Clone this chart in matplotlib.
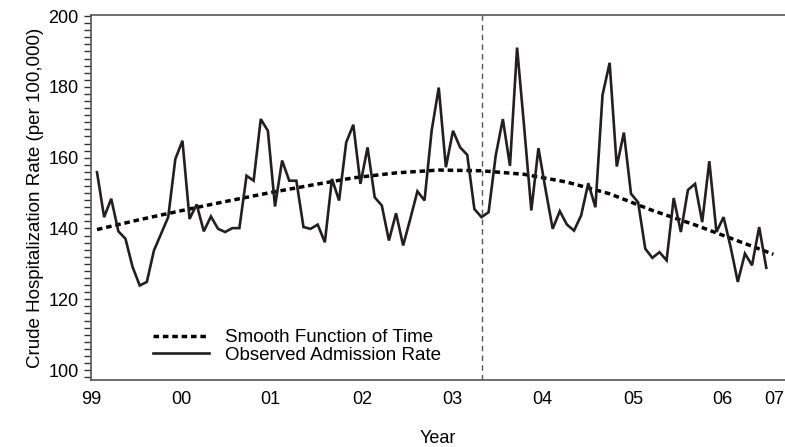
import matplotlib
matplotlib.use("Agg")
import matplotlib.pyplot as plt
from matplotlib.ticker import MultipleLocator, FixedLocator
import numpy as np

plt.rcParams['font.family'] = ['Liberation Sans', 'DejaVu Sans']

# Observed monthly crude hospitalization rate (per 100,000), starting Jan 1999
observed = [155.9, 143.2, 148.4, 139.2, 137.1, 129.1, 123.9, 124.9, 133.8, 138.5, 143.2, 159.6,
            164.8, 142.7, 146.8, 139.2, 143.4, 139.9, 139.0, 140.1, 140.1, 154.9, 153.5, 170.9,
            167.6, 146.2, 159.2, 153.5, 153.5, 140.4, 139.9, 141.1, 136.1, 154.0, 147.9, 164.3,
            169.3, 152.6, 162.9, 148.8, 146.5, 136.6, 144.3, 135.2, 142.7, 150.5, 147.9, 167.6,
            179.8, 157.3, 167.6, 162.9, 160.8, 145.5, 143.2, 144.6, 160.6, 170.9, 157.7, 191.1,
            168.5, 145.1, 162.7, 151.0, 139.9, 144.9, 141.1, 139.4, 143.7, 152.8, 146.0, 177.7,
            186.8, 157.5, 167.1, 149.8, 147.4, 134.3, 131.7, 133.3, 131.0, 148.6, 139.0, 150.9,
            152.6, 141.8, 159.0, 139.0, 143.2, 134.7, 124.9, 132.9, 129.6, 140.4, 128.9]

# Smooth function of time, read every 6 observations
smooth_idx = [0, 6, 12, 18, 24, 30, 36, 42, 48, 54, 60, 66, 72, 78, 84, 90, 95]
smooth_vals = [139.7, 142.5, 145.1, 147.6, 150.0, 152.2, 154.3, 155.7, 156.5,
               156.3, 155.3, 153.1, 149.8, 145.1, 141.0, 136.5, 132.7]

# Intervention (vertical dashed line), in observation-index units
intervention_idx = 54.1

year_labels = ['99', '00', '01', '02', '03', '04', '05', '06', '07']
# label positions on the observation-index axis
year_tick_pos = [-0.84, 11.8, 24.4, 37.2, 49.9, 62.6, 75.3, 87.9, 95.1]
y_ticks = [100, 120, 140, 160, 180, 200]

obs_idx = np.arange(len(observed))

fig = plt.figure(figsize=(7.85, 4.47), dpi=100)
ax = fig.add_axes([91/785, 1 - 380/447, 1 - 91/785, (380 - 15)/447])

ax.plot(smooth_idx, smooth_vals, color='black', lw=2.5, linestyle=(0, (1.6, 1.1)),
        label='Smooth Function of Time')
ax.plot(obs_idx, observed, color='#231f20', lw=1.9, solid_joinstyle='miter',
        label='Observed Admission Rate')
ax.axvline(intervention_idx, color='#555555', lw=1.0, linestyle=(0, (4, 3)))

px_per_idx = 7.12
ax.set_xlim(-6 / px_per_idx, (785 - 97) / px_per_idx)
ax.set_ylim(97.2, 200.3)

ax.xaxis.set_major_locator(FixedLocator(year_tick_pos))
ax.set_xticklabels(year_labels, fontsize=13)
ax.tick_params(axis='x', length=0, pad=8)
ax.yaxis.set_major_locator(FixedLocator(y_ticks))
ax.yaxis.set_minor_locator(MultipleLocator(2))
ax.tick_params(axis='y', which='both', length=5, width=1.0, color='#333333', labelsize=13, pad=4)

for side in ['left', 'bottom', 'top']:
    ax.spines[side].set_color('#555555')
    ax.spines[side].set_linewidth(1.2)
ax.spines['right'].set_visible(False)

ax.set_xlabel('Year', fontsize=13, labelpad=16)
ax.set_ylabel('Crude Hospitalization Rate (per 100,000)', fontsize=13.5, labelpad=3)

leg = ax.legend(loc='lower left', bbox_to_anchor=((153 - 91) / 694, 0.045), frameon=False,
                fontsize=13.5, handlelength=3.0, handletextpad=0.85, labelspacing=0.0,
                borderpad=0, borderaxespad=0)

fig.savefig('out.png', dpi=100)
